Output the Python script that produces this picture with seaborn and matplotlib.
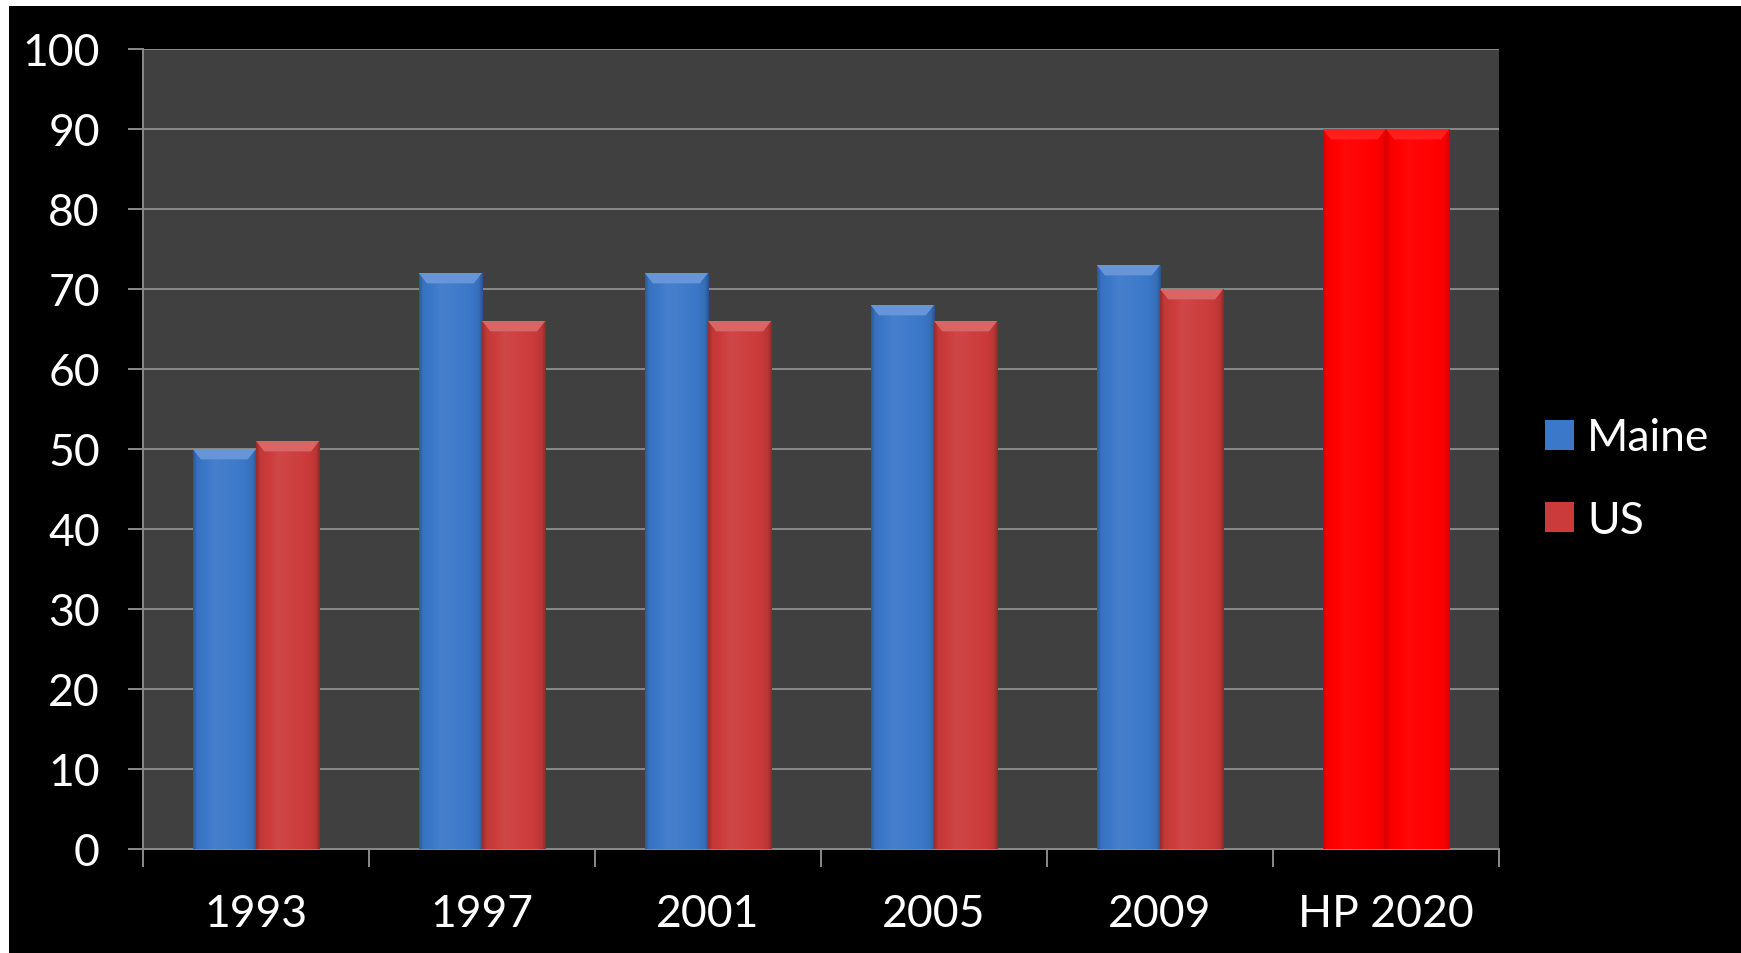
import numpy as np
import pandas as pd
import matplotlib
matplotlib.use("Agg")
import matplotlib.pyplot as plt
import matplotlib.colors as mcolors
from matplotlib.patches import Patch, Polygon, Rectangle
import seaborn as sns

# Survey years and the Healthy People 2020 target
years = ["1993", "1997", "2001", "2005", "2009", "HP 2020"]
maine = [50, 72, 72, 68, 73, 90]
us = [51, 66, 66, 66, 70, 90]
regions = ["Maine", "US"]
yticks = [0, 10, 20, 30, 40, 50, 60, 70, 80, 90, 100]

BLUE = "#3b78c9"
RED = "#cc3b3b"
TARGET = "#ff0000"
GRID = "#8a8a8a"
FS = 32

df = pd.DataFrame({
    "year": years * 2,
    "value": maine + us,
    "region": ["Maine"] * len(years) + ["US"] * len(years),
})

sns.set_theme(style="dark")
plt.rcParams["font.family"] = ["Lato", "DejaVu Sans"]

W, H = 1741, 954
fig = plt.figure(figsize=(W / 100, H / 100), dpi=100, facecolor="black")
ax = fig.add_axes([143 / W, 1 - 850 / H, (1499 - 143) / W, 800 / H])
ax.set_facecolor("#404040")

sns.barplot(data=df, x="year", y="value", hue="region", order=years,
            hue_order=regions, palette=[BLUE, RED], width=0.56, gap=0,
            saturation=1, ax=ax, legend=False, zorder=3)


def shade(col, f):
    c = np.array(mcolors.to_rgb(col))
    if f >= 0:
        return tuple(c + (1 - c) * f)
    return tuple(c * (1 + f))


# Glossy look: horizontal shading across each bar plus a lighter top bevel
for cont, base in zip(ax.containers, [BLUE, RED]):
    for i, bar in enumerate(cont.patches):
        col = TARGET if years[i] == "HP 2020" else base
        bar.set_facecolor(col)
        bar.set_edgecolor("none")
        x, w, h = bar.get_x(), bar.get_width(), bar.get_height()
        t = np.linspace(0, 1, 64)
        prof = np.interp(t, [0, 0.06, 0.35, 0.8, 0.94, 1],
                         [-0.25, -0.05, 0.06, 0.0, -0.08, -0.28])
        if col == TARGET:
            prof = prof * 0.6
        img = np.array([[(*shade(col, p), 1.0) for p in prof]])
        im = ax.imshow(img, extent=[x, x + w, 0, h], aspect="auto",
                       zorder=3.1, interpolation="bilinear")
        im.set_clip_path(bar)
        bh, bw = 1.3, w * 0.13
        lift = 0.12 if col == TARGET else 0.22
        ax.add_patch(Polygon([(x, h), (x + w, h), (x + w - bw, h - bh),
                              (x + bw, h - bh)], closed=True,
                             facecolor=shade(col, lift), edgecolor="none",
                             zorder=3.2))

ax.set_xlim(-0.5, len(years) - 0.5)
ax.set_ylim(0, 100)
ax.set_yticks(yticks)
ax.set_xlabel("")
ax.set_ylabel("")

ax.set_axisbelow(True)
ax.yaxis.grid(True, color=GRID, lw=1.4, zorder=0)
ax.xaxis.grid(False)
for side in ["top", "right"]:
    ax.spines[side].set_visible(False)
for side in ["left", "bottom"]:
    ax.spines[side].set_visible(True)
    ax.spines[side].set_color(GRID)
    ax.spines[side].set_linewidth(1.4)

ax.tick_params(axis="y", which="major", length=11, width=1.4, color=GRID,
               left=True, pad=20, labelsize=FS, labelcolor="white")
ax.set_xticks(np.arange(len(years) + 1) - 0.5, minor=True)
ax.tick_params(axis="x", which="minor", length=13, width=1.4, color=GRID,
               bottom=True, direction="out")
ax.tick_params(axis="x", which="major", length=0, pad=32, labelsize=FS,
               labelcolor="white")

handles = [Patch(facecolor=BLUE, edgecolor="none"),
           Patch(facecolor=RED, edgecolor="none")]
leg = fig.legend(handles, regions, loc="center left",
                 bbox_to_anchor=(1545 / W, 1 - 480 / H),
                 bbox_transform=fig.transFigure, frameon=False,
                 fontsize=FS, labelcolor="white", handlelength=0.65,
                 handleheight=0.65, handletextpad=0.3, labelspacing=0.93,
                 borderpad=0, borderaxespad=0)

# Thin white margins along the top and left edges
fig.patches.append(Rectangle((0, 1 - 7 / H), 1, 7 / H, transform=fig.transFigure,
                             facecolor="white", edgecolor="none", zorder=0))
fig.patches.append(Rectangle((0, 0), 9 / W, 1, transform=fig.transFigure,
                             facecolor="white", edgecolor="none", zorder=0))

fig.savefig("out.png", dpi=100, facecolor=fig.get_facecolor())
